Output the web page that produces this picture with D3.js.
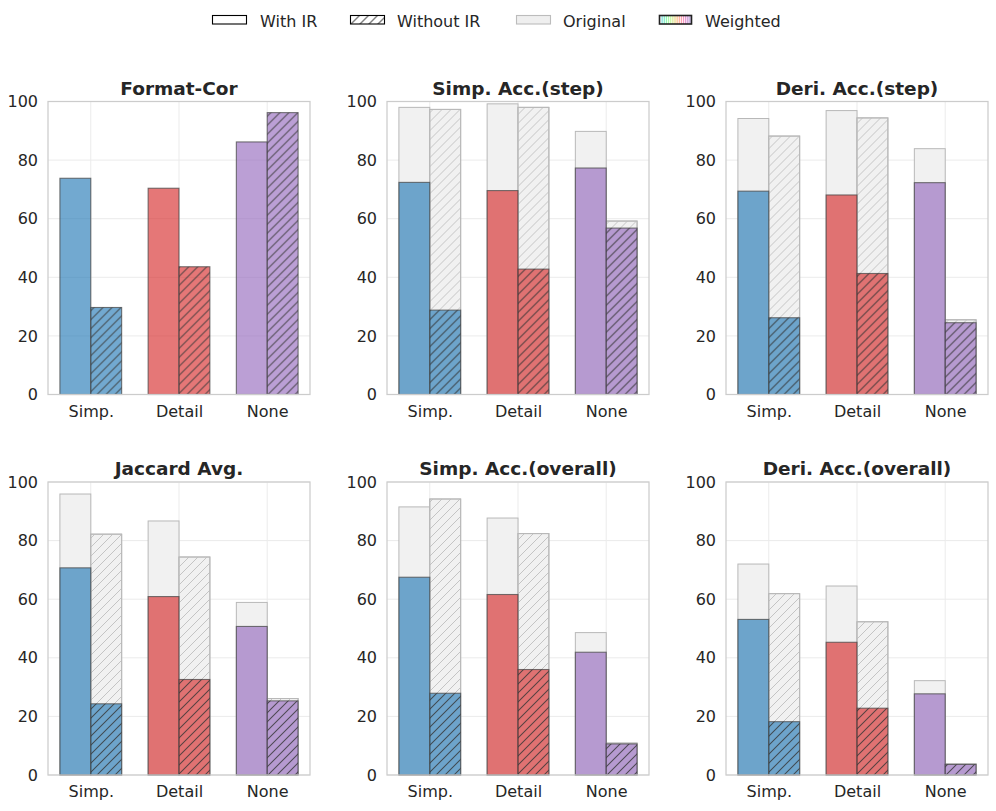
<!DOCTYPE html>
<html>
<head>
<meta charset="utf-8">
<script src="https://cdn.jsdelivr.net/npm/d3@7"></script>
<style>
  html, body { margin: 0; padding: 0; background: #fff; }
  svg { display: block; font-family: "DejaVu Sans", sans-serif; }
</style>
</head>
<body>
<svg id="chart" width="996" height="811"></svg>
<script>
// ---------------- data ----------------
const categories = ["Simp.", "Detail", "None"];
const titles = ["Format-Cor", "Simp. Acc.(step)", "Deri. Acc.(step)",
                "Jaccard Avg.", "Simp. Acc.(overall)", "Deri. Acc.(overall)"];
const yTicks = [0, 20, 40, 60, 80, 100];
const legendLabels = ["With IR", "Without IR", "Original", "Weighted"];
const groupColors = ["#1f77b4", "#d62728", "#9467bd"];

const withIRWeighted = [
  [73.8, 70.4, 86.2],
  [72.4, 69.6, 77.3],
  [69.4, 68.1, 72.3],
  [70.7, 60.9, 50.7],
  [67.5, 61.6, 41.9],
  [53.1, 45.3, 27.7]
];
const withIROriginal = [
  null,
  [98.0, 99.2, 89.8],
  [94.2, 96.9, 83.9],
  [95.9, 86.7, 58.9],
  [91.5, 87.7, 48.6],
  [72.0, 64.5, 32.2]
];
const withoutIRWeighted = [
  [29.7, 43.6, 96.2],
  [28.8, 42.8, 56.8],
  [26.2, 41.3, 24.5],
  [24.3, 32.6, 25.3],
  [27.9, 36.0, 10.6],
  [18.2, 22.8, 3.6]
];
const withoutIROriginal = [
  null,
  [97.3, 98.0, 59.2],
  [88.2, 94.4, 25.5],
  [82.2, 74.4, 26.1],
  [94.2, 82.4, 10.9],
  [61.9, 52.3, 3.8]
];

// ---------------- layout ----------------
const svg = d3.select("#chart");
const textColor = "#262626";
const panelW = 262, panelH = 293;
const colX = [48, 387, 726];
const rowY = [101.5, 482];
const barW = 0.35;

// hatch patterns
const defs = svg.append("defs");
function hatch(id, color, width) {
  const p = defs.append("pattern")
    .attr("id", id).attr("patternUnits", "userSpaceOnUse")
    .attr("width", 9).attr("height", 9);
  p.append("path")
    .attr("d", "M-2,11 L11,-2 M-2,2 L2,-2 M7,11 L11,7")
    .attr("stroke", color).attr("stroke-width", width).attr("fill", "none");
}
hatch("hatchDark", "#3a3a3a", 1.1);
hatch("hatchLight", "#c4c4c4", 1.0);
hatch("hatchBlack", "#000", 1.0);

const x = d3.scaleLinear().domain([-0.485, 2.485]).range([0, panelW]);
const y = d3.scaleLinear().domain([0, 100]).range([panelH, 0]);

titles.forEach((title, k) => {
  const g = svg.append("g")
    .attr("transform", `translate(${colX[k % 3]},${rowY[Math.floor(k / 3)]})`);

  // grid
  g.append("g").selectAll("line").data(yTicks).join("line")
    .attr("x1", 0).attr("x2", panelW)
    .attr("y1", d => y(d)).attr("y2", d => y(d))
    .attr("stroke", "#ebebeb").attr("stroke-width", 1);
  g.append("g").selectAll("line").data(categories).join("line")
    .attr("x1", (d, i) => x(i)).attr("x2", (d, i) => x(i))
    .attr("y1", 0).attr("y2", panelH)
    .attr("stroke", "#ebebeb").attr("stroke-width", 1);

  // original bars (behind)
  const drawOrig = (vals, offset, hatched) => {
    if (!vals) return;
    g.append("g").selectAll("rect").data(vals).join("rect")
      .attr("x", (d, i) => x(i + offset))
      .attr("width", x(barW) - x(0))
      .attr("y", d => y(d))
      .attr("height", d => y(0) - y(d))
      .attr("fill", "#f1f1f1")
      .attr("stroke", "#b8b8b8").attr("stroke-width", 1);
    if (hatched) {
      g.append("g").selectAll("rect").data(vals).join("rect")
        .attr("x", (d, i) => x(i + offset))
        .attr("width", x(barW) - x(0))
        .attr("y", d => y(d))
        .attr("height", d => y(0) - y(d))
        .attr("fill", "url(#hatchLight)")
        .attr("stroke", "#b8b8b8").attr("stroke-width", 1);
    }
  };
  drawOrig(withIROriginal[k], -barW, false);
  drawOrig(withoutIROriginal[k], 0, true);

  // weighted bars
  const drawW = (vals, offset, hatched) => {
    g.append("g").selectAll("rect").data(vals).join("rect")
      .attr("x", (d, i) => x(i + offset))
      .attr("width", x(barW) - x(0))
      .attr("y", d => y(d))
      .attr("height", d => y(0) - y(d))
      .attr("fill", (d, i) => groupColors[i])
      .attr("fill-opacity", 0.63)
      .attr("stroke", "#4a4a4a").attr("stroke-opacity", 0.75)
      .attr("stroke-width", 1.1);
    if (hatched) {
      g.append("g").selectAll("rect").data(vals).join("rect")
        .attr("x", (d, i) => x(i + offset))
        .attr("width", x(barW) - x(0))
        .attr("y", d => y(d))
        .attr("height", d => y(0) - y(d))
        .attr("fill", "url(#hatchDark)")
        .attr("fill-opacity", 0.8)
        .attr("stroke", "none");
    }
  };
  drawW(withIRWeighted[k], -barW, false);
  drawW(withoutIRWeighted[k], 0, true);

  // spines
  g.append("rect")
    .attr("x", 0).attr("y", 0).attr("width", panelW).attr("height", panelH)
    .attr("fill", "none").attr("stroke", "#cccccc").attr("stroke-width", 1.25);

  // axes
  const yAxis = g.append("g").call(d3.axisLeft(y).tickValues(yTicks).tickSize(0).tickPadding(10));
  yAxis.select(".domain").remove();
  yAxis.selectAll("text").attr("fill", textColor).style("font-size", "16px")
    .style("font-family", "'DejaVu Sans', sans-serif");

  const xAxis = g.append("g").attr("transform", `translate(0,${panelH})`)
    .call(d3.axisBottom(x).tickValues([0, 1, 2]).tickFormat(i => categories[i]).tickSize(0).tickPadding(11));
  xAxis.select(".domain").remove();
  xAxis.selectAll("text").attr("fill", textColor).style("font-size", "16px")
    .style("font-family", "'DejaVu Sans', sans-serif");

  // title
  g.append("text")
    .attr("x", panelW / 2).attr("y", -7)
    .attr("text-anchor", "middle")
    .attr("fill", textColor)
    .style("font-size", "18.5px").style("font-weight", "bold")
    .text(title);
});

// ---------------- legend ----------------
const legend = svg.append("g");
const lx = [212.5, 350.5, 516.5, 659.5];
const lpW = 34, lpH = 8.5, lpY = 15.5;
legendLabels.forEach((lab, i) => {
  const lg = legend.append("g").attr("transform", `translate(${lx[i]},${lpY})`);
  if (i === 0) {
    lg.append("rect").attr("width", lpW).attr("height", lpH)
      .attr("fill", "#fff").attr("stroke", "#000").attr("stroke-width", 1.1);
  } else if (i === 1) {
    lg.append("rect").attr("width", lpW).attr("height", lpH)
      .attr("fill", "url(#hatchBlack)").attr("stroke", "#000").attr("stroke-width", 1.1);
  } else if (i === 2) {
    lg.append("rect").attr("width", lpW).attr("height", lpH)
      .attr("fill", "#efefef").attr("stroke", "#bcbcbc").attr("stroke-width", 1.1);
  } else {
    const n = 14, sw = (lpW - 4) / n;
    lg.append("rect").attr("width", lpW - 2).attr("height", lpH).attr("fill", "#fff");
    d3.range(n).forEach(j => {
      lg.append("rect")
        .attr("x", 2 + j * sw).attr("y", 0)
        .attr("width", sw * 0.6).attr("height", lpH)
        .attr("fill", d3.interpolateRainbow(0.75 - (j / (n - 1)) * 0.75))
        .attr("fill-opacity", 0.55);
    });
    lg.append("rect").attr("width", lpW - 2).attr("height", lpH)
      .attr("fill", "none").attr("stroke", "#222").attr("stroke-width", 1.6);
  }
  lg.append("text")
    .attr("x", [47.5, 46.5, 46.5, 45.5][i]).attr("y", lpH / 2 + 1.5)
    .attr("dy", "0.35em")
    .attr("fill", textColor)
    .style("font-size", "16px")
    .text(lab);
});
</script>
</body>
</html>
